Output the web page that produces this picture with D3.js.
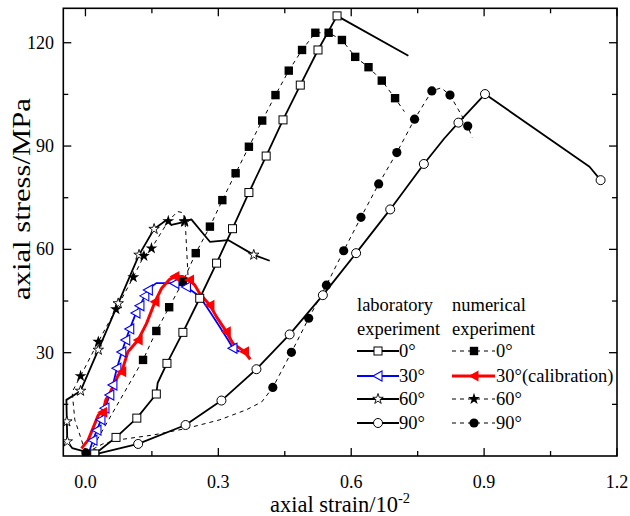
<!DOCTYPE html>
<html><head><meta charset="utf-8">
<script src="https://cdn.jsdelivr.net/npm/d3@7"></script>
<style>
body{margin:0;background:#fff}
svg{display:block}
text{font-family:"Liberation Serif","Times New Roman",serif;fill:#000}
</style>
</head><body><svg id="c" width="630" height="516"></svg>
<script>
// ---------- data ----------
const xTicks = [0, 0.3, 0.6, 0.9, 1.2];
const xTickLabels = ["0.0", "0.3", "0.6", "0.9", "1.2"];
const xMinor = [0.15, 0.45, 0.75, 1.05];
const yTicks = [30, 60, 90, 120];
const yTickLabels = ["30", "60", "90", "120"];
const yMinor = [15, 45, 75, 105];

// [axial strain (10^-2), axial stress (MPa), marker shown (1/0)]
const lab0 = [[0.021,0.6,1],[0.069,5.4,1],[0.116,11.0,1],[0.160,18.0,1],[0.163,21.2,0],[0.184,26.9,1],[0.220,35.9,1],[0.258,45.8,1],[0.296,56.0,1],[0.332,66.0,1],[0.369,76.5,1],[0.408,87.1,1],[0.446,97.6,1],[0.485,107.7,1],[0.525,117.9,1],[0.568,127.8,1],[0.729,116.2,0]];
const num0 = [[0.008,0.6,0],[0.130,27.9,1],[0.160,36.3,1],[0.189,43.2,1],[0.220,50.6,1],[0.249,58.9,1],[0.281,66.6,1],[0.309,74.3,1],[0.339,82.1,1],[0.369,89.8,1],[0.399,97.4,1],[0.429,104.8,1],[0.459,111.9,1],[0.489,117.9,1],[0.519,122.9,1],[0.549,122.9,1],[0.579,120.8,1],[0.609,115.9,1],[0.639,112.9,1],[0.669,109.0,1],[0.699,103.9,1],[0.720,100.0,0]];
const lab30 = [[0.006,0.3,0],[0.017,4.6,1],[0.026,7.5,1],[0.035,10.5,1],[0.044,13.9,1],[0.055,17.7,1],[0.062,20.6,1],[0.071,25.5,1],[0.082,30.2,1],[0.091,33.7,1],[0.100,36.9,1],[0.114,41.5,1],[0.123,43.6,1],[0.134,46.5,1],[0.142,48.2,1],[0.148,49.1,0],[0.160,50.2,0],[0.194,50.2,0],[0.202,50.1,1],[0.228,49.1,1],[0.258,46.3,0],[0.281,41.9,0],[0.303,37.5,0],[0.322,33.7,0],[0.333,31.3,1],[0.348,30.3,0]];
const num30 = [[-0.009,2.2,0],[0.006,4.6,0],[0.018,8.4,0],[0.029,11.9,0],[0.039,12.7,1],[0.046,16.3,0],[0.055,18.2,0],[0.074,23.5,0],[0.082,24.5,1],[0.096,30.3,0],[0.119,33.7,1],[0.138,38.5,0],[0.157,44.8,1],[0.172,48.7,0],[0.190,51.3,0],[0.202,52.1,1],[0.220,52.1,0],[0.235,51.1,1],[0.247,49.6,0],[0.258,47.2,0],[0.281,43.8,1],[0.296,40.4,0],[0.318,36.1,1],[0.333,32.7,0],[0.359,30.3,1],[0.372,28.1,0]];
const lab60 = [[-0.001,1.3,0],[-0.030,2.3,0],[-0.041,4.2,1],[-0.042,10.0,1],[-0.043,16.3,0],[-0.011,18.9,1],[0.029,30.8,1],[0.074,44.3,1],[0.121,58.4,1],[0.155,65.9,1],[0.183,68.5,0],[0.194,67.1,0],[0.224,68.0,1],[0.239,68.7,0],[0.281,62.2,0],[0.322,62.7,0],[0.380,58.4,1],[0.416,56.7,0]];
const num60 = [[0.000,1.2,0],[-0.024,10.5,0],[-0.030,18.6,0],[-0.011,23.2,1],[0.029,33.2,1],[0.069,42.6,1],[0.108,51.9,1],[0.132,58.1,1],[0.149,60.3,1],[0.187,68.2,1],[0.208,71.0,0],[0.221,70.6,0],[0.224,68.2,1],[0.226,66.2,0],[0.232,51.1,0]];
const lab90 = [[0.021,0.5,1],[0.119,3.5,1],[0.226,9.0,1],[0.307,16.1,1],[0.386,25.2,1],[0.461,35.3,1],[0.536,46.7,1],[0.611,58.9,1],[0.688,71.6,1],[0.764,84.8,1],[0.810,92.2,0],[0.842,96.8,1],[0.902,105.1,1],[1.138,84.0,0],[1.163,80.1,1]];
const num90 = [[0.001,0.9,1],[0.039,3.5,0],[0.070,4.6,0],[0.153,6.1,0],[0.228,8.0,0],[0.303,10.5,0],[0.363,13.4,0],[0.398,15.7,0],[0.423,19.9,1],[0.465,30.1,1],[0.504,40.0,1],[0.544,49.6,1],[0.583,59.6,1],[0.622,69.3,1],[0.662,79.0,1],[0.703,88.1,1],[0.743,97.8,1],[0.782,106.0,1],[0.803,106.9,0],[0.823,104.8,1],[0.863,95.8,1],[0.873,92.5,0]];

const legendTitlesLab = ["laboratory", "experiment"];
const legendTitlesNum = ["numerical", "experiment"];
const legendLab = ["0°", "30°", "60°", "90°"];
const legendNum = ["0°", "30°(calibration)", "60°", "90°"];

// ---------- layout ----------
const L = 63.3, R = 617, T = 8.3, B = 456;
const svg = d3.select("#c");
const x = d3.scaleLinear().domain([-0.05, 1.2]).range([L, R]);
const y = d3.scaleLinear().domain([0, 130]).range([B, T]);

const defs = svg.append("defs");
defs.append("clipPath").attr("id","clip").append("rect")
  .attr("x", L).attr("y", T).attr("width", R-L).attr("height", B-T);

// marker drawer
const starPath = (s) => d3.symbol().type(d3.symbolStar).size(s)();
function marker(g, type, cx, cy) {
  const t = g.append("g").attr("transform", `translate(${cx},${cy})`);
  switch (type) {
    case "sqOpen": t.append("rect").attr("x",-4).attr("y",-4).attr("width",8).attr("height",8).attr("fill","#fff").attr("stroke","#000").attr("stroke-width",1); break;
    case "sqFill": t.append("rect").attr("x",-4.2).attr("y",-4.2).attr("width",8.4).attr("height",8.4).attr("fill","#000"); break;
    case "circOpen": t.append("circle").attr("r",4.5).attr("fill","#fff").attr("stroke","#000").attr("stroke-width",1); break;
    case "circFill": t.append("circle").attr("r",4.6).attr("fill","#000"); break;
    case "starOpen": t.append("path").attr("d",starPath(34)).attr("fill","#fff").attr("stroke","#000").attr("stroke-width",0.9); break;
    case "starFill": t.append("path").attr("d",starPath(44)).attr("fill","#000"); break;
    case "triOpen": t.append("path").attr("d","M-5,0L4,-5L4,5Z").attr("fill","#fff").attr("stroke","#0000ff").attr("stroke-width",1.1); break;
    case "triFill": t.append("path").attr("d","M-5.5,0L4.5,-5.5L4.5,5.5Z").attr("fill","#ff0000"); break;
  }
}

const line = d3.line().x(d => x(d[0])).y(d => y(d[1]));
const plot = svg.append("g").attr("clip-path","url(#clip)");

const series = [
  {data: lab90, color:"#000", w:1.8, dash:null, m:"circOpen"},
  {data: num90, color:"#000", w:1, dash:"4,4", m:"circFill"},
  {data: lab0,  color:"#000", w:1.8, dash:null, m:"sqOpen"},
  {data: num0,  color:"#000", w:1, dash:"4,4", m:"sqFill"},
  {data: lab60, color:"#000", w:1.8, dash:null, m:"starOpen"},
  {data: num60, color:"#000", w:1, dash:"4,4", m:"starFill"},
  {data: lab30, color:"#0000ff", w:1.8, dash:null, m:"triOpen"},
  {data: num30, color:"#ff0000", w:3, dash:null, m:"triFill"}
];
series.forEach(s => {
  plot.append("path").datum(s.data).attr("d", line).attr("fill","none")
    .attr("stroke", s.color).attr("stroke-width", s.w)
    .attr("stroke-linejoin","round")
    .attr("stroke-dasharray", s.dash);
});
series.forEach(s => {
  s.data.filter(d => d[2]).forEach(d => marker(plot, s.m, x(d[0]), y(d[1])));
});

// ---------- frame & ticks ----------
const ax = svg.append("g").attr("stroke","#000");
ax.append("rect").attr("x",L).attr("y",T).attr("width",R-L).attr("height",B-T)
  .attr("fill","none").attr("stroke-width",1.6);
xTicks.concat(xMinor).forEach(v => {
  const len = xTicks.includes(v) ? 8 : 5;
  ax.append("line").attr("x1",x(v)).attr("x2",x(v)).attr("y1",B).attr("y2",B-len).attr("stroke-width",1.3);
  ax.append("line").attr("x1",x(v)).attr("x2",x(v)).attr("y1",T).attr("y2",T+len).attr("stroke-width",1.3);
});
yTicks.concat(yMinor).forEach(v => {
  const len = yTicks.includes(v) ? 8 : 5;
  ax.append("line").attr("y1",y(v)).attr("y2",y(v)).attr("x1",L).attr("x2",L+len).attr("stroke-width",1.3);
  ax.append("line").attr("y1",y(v)).attr("y2",y(v)).attr("x1",R).attr("x2",R-len).attr("stroke-width",1.3);
});
xTicks.forEach((v,i) => {
  svg.append("text").attr("x",x(v)).attr("y",488).attr("text-anchor","middle")
    .attr("font-size",18).text(xTickLabels[i]);
});
yTicks.forEach((v,i) => {
  svg.append("text").attr("x",54).attr("y",y(v)+6).attr("text-anchor","end")
    .attr("font-size",18).text(yTickLabels[i]);
});
// axis titles
const xt = svg.append("text").attr("x",340).attr("y",512).attr("text-anchor","middle").attr("font-size",22.5);
xt.append("tspan").text("axial strain/10");
xt.append("tspan").attr("dy",-9).attr("font-size",14.5).text("-2");
svg.append("text").attr("transform","translate(30,199) rotate(-90)")
  .attr("text-anchor","middle").attr("font-size",25)
  .attr("textLength",202).attr("lengthAdjust","spacingAndGlyphs")
  .text("axial stress/MPa");

// ---------- legend ----------
const lg = svg.append("g");
legendTitlesLab.forEach((t,i) => lg.append("text").attr("x",357).attr("y",311+24*i).attr("font-size",18.5).text(t));
legendTitlesNum.forEach((t,i) => lg.append("text").attr("x",452).attr("y",311+24*i).attr("font-size",18.5).text(t));
const rowY = [351, 376, 399, 423];
const labM = ["sqOpen","triOpen","starOpen","circOpen"];
const numM = ["sqFill","triFill","starFill","circFill"];
legendLab.forEach((t,i) => {
  lg.append("line").attr("x1",357).attr("x2",399).attr("y1",rowY[i]).attr("y2",rowY[i])
    .attr("stroke", i===1 ? "#0000ff" : "#000").attr("stroke-width",1.8);
  marker(lg, labM[i], 378, rowY[i]);
  lg.append("text").attr("x",399).attr("y",rowY[i]+6).attr("font-size",18.5).text(t);
});
legendNum.forEach((t,i) => {
  const red = i===1;
  lg.append("line").attr("x1",452).attr("x2",495).attr("y1",rowY[i]).attr("y2",rowY[i])
    .attr("stroke", red ? "#ff0000" : "#000").attr("stroke-width", red ? 3 : 1)
    .attr("stroke-dasharray", red ? null : "4,4");
  marker(lg, numM[i], 474, rowY[i]);
  lg.append("text").attr("x",496).attr("y",rowY[i]+6).attr("font-size",18.5).text(t);
});
</script>
</body></html>
